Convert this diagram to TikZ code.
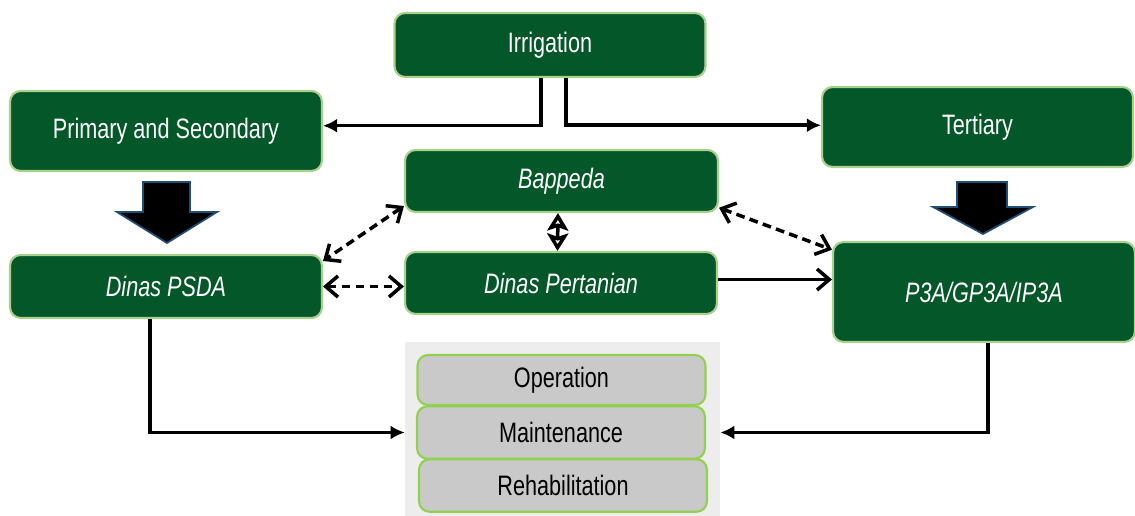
\documentclass[tikz,border=0pt]{standalone}
\usepackage{fontspec}
\setmainfont{Liberation Sans}[FakeStretch=0.77]
\usepackage{tikz}
\usetikzlibrary{arrows.meta}

\definecolor{boxgreen}{HTML}{045729}
\definecolor{boxrim}{HTML}{A9D18E}
\definecolor{taskgray}{HTML}{C9C9C9}
\definecolor{taskrim}{HTML}{92D050}
\definecolor{panelgray}{HTML}{EDEDED}
\definecolor{arrowrim}{HTML}{1F4E79}

\tikzset{
  orgbox/.style={draw=boxrim, fill=boxgreen, line width=1.2pt, rounded corners=6pt,
    text=white, inner sep=0pt, font=\fontsize{16pt}{18pt}\selectfont},
  taskbox/.style={draw=taskrim, fill=taskgray, line width=1.2pt, rounded corners=6pt,
    text=black, inner sep=0pt, minimum width=5.76cm, minimum height=1.05cm,
    font=\fontsize{16pt}{18pt}\selectfont},
  link/.style={line width=2pt, -{Latex[length=8pt,width=8pt]}},
  barb/.style={line width=2pt, -{Straight Barb[length=7pt,width=12pt]}},
  dashbarb/.style={line width=2pt, dash pattern=on 5pt off 3pt,
    {Straight Barb[length=7pt,width=12pt]}-{Straight Barb[length=7pt,width=12pt]}}
}

\begin{document}
\begin{tikzpicture}[x=0.02cm, y=-0.02cm]
      \useasboundingbox (0,0) rectangle (1135,516);

      % Top level
      \node[orgbox, minimum width=6.22cm, minimum height=1.28cm] (irr) at (550,45) {Irrigation};
      \node[orgbox, minimum width=6.24cm, minimum height=1.6cm] (prim) at (166,131) {Primary and Secondary};
      \node[orgbox, minimum width=6.22cm, minimum height=1.6cm] (tert) at (977.5,127) {Tertiary};

      % Agencies
      \node[orgbox, minimum width=6.26cm, minimum height=1.24cm] (bap) at (561.5,181) {\itshape Bappeda};
      \node[orgbox, minimum width=6.24cm, minimum height=1.26cm] (psda) at (166,286.5) {\itshape Dinas PSDA};
      \node[orgbox, minimum width=6.24cm, minimum height=1.24cm] (pert) at (561,283) {\itshape Dinas Pertanian};
      \node[orgbox, minimum width=6.04cm, minimum height=2cm] (p3a) at (984,292) {\itshape P3A/GP3A/IP3A};

      % O&M panel
      \node[fill=panelgray, minimum width=6.3cm, minimum height=3.48cm, inner sep=0pt] (omr) at (562.5,429) {};
      \node[taskbox, minimum height=1cm] (oper) at (561.5,380) {\raisebox{-3pt}{Operation}};
      \node[taskbox] (rehab) at (563,485.5) {Rehabilitation};
      \node[taskbox] (maint) at (561,432.5) {Maintenance};

      % Irrigation split
      \draw[link] (irr.south) ++(-9,0) |- ([yshift=3pt]prim.east);
      \draw[link] (irr.south) ++(16,0) |- ([yshift=1pt]tert.west);

      % Block arrows
      \filldraw[fill=black, draw=arrowrim, line width=1pt]
        (143,182) -- (190,182) -- (190,212) -- (217,212) -- (167,243)
        -- (117,212) -- (143,212) -- cycle;
      \filldraw[fill=black, draw=arrowrim, line width=1pt]
        (957,182) -- (1007,182) -- (1007,207) -- (1033,207) -- (983,234)
        -- (933,207) -- (957,207) -- cycle;

      % Coordination
      \draw[dashbarb] ([yshift=4pt]bap.south west) -- ([yshift=-4pt]psda.north east);
      \draw[dashbarb] (psda.east) -- (pert.west |- psda.east);
      \draw[dashbarb] ([yshift=3pt]bap.south east) -- ([yshift=-5pt]p3a.north west);
      \draw[line width=2pt, {Stealth[open,length=10pt,width=12pt,inset=2pt]}-{Stealth[open,length=10pt,width=12pt,inset=2pt]}]
        ([xshift=-2pt]bap.south) -- ([xshift=-2pt]pert.north);
      \draw[barb] ([yshift=2pt]pert.east) -- ([yshift=2pt]pert.east -| p3a.west);

      % To O&M
      \draw[link] (psda.south) ++(-16,0) |- (omr.west |- maint.west);
      \draw[link] (p3a.south) ++(4,0) |- (omr.east |- maint.east);
    \end{tikzpicture}
\end{document}
